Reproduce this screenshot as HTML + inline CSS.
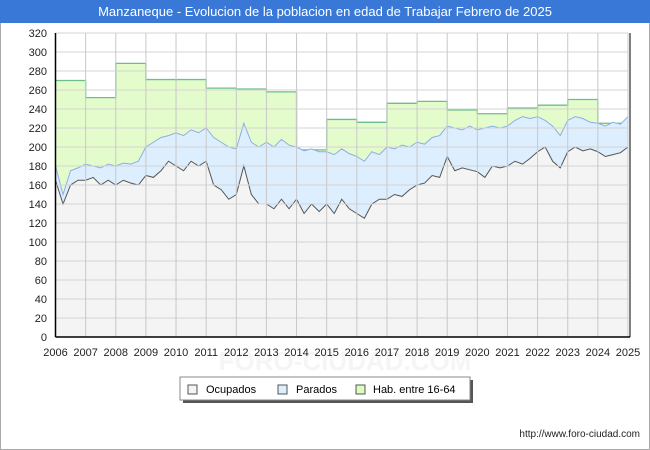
<!DOCTYPE html>
<html><head><meta charset="utf-8"><style>
body{margin:0;background:#fff;font-family:"Liberation Sans",sans-serif}
#wrap{position:relative;width:650px;height:450px;overflow:hidden}
</style></head><body>
<div id="wrap">
<svg id="chart" width="650" height="450" xmlns="http://www.w3.org/2000/svg">
<rect x="0.5" y="0.5" width="649" height="449" fill="#fff" stroke="#aaa"/>
<rect x="0" y="0" width="650" height="23" fill="#3a78d8"/>
<text x="325" y="16" text-anchor="middle" fill="#fff" font-size="13">Manzaneque - Evolucion de la poblacion en edad de Trabajar Febrero de 2025</text>
<text x="345" y="370" text-anchor="middle" fill="#f5f5f5" font-size="26" font-weight="bold">FORO-CIUDAD.COM</text>
<g id="grid"></g>
<g id="series"></g>
<g id="axes"></g>
<g>
<rect x="183" y="380" width="290" height="23" fill="#555"/>
<rect x="180" y="377" width="290" height="23" fill="#fff" stroke="#888"/>
<g><rect x="188" y="385" width="9" height="9" fill="#f4f4f4" stroke="#555"/><text x="206" y="393" font-size="11">Ocupados</text></g>
<g><rect x="278" y="385" width="9" height="9" fill="#ddeeff" stroke="#555"/><text x="296" y="393" font-size="11">Parados</text></g>
<g><rect x="356" y="385" width="9" height="9" fill="#ddfcc0" stroke="#555"/><text x="373" y="393" font-size="11">Hab. entre 16-64</text></g>
</g>
<text x="640" y="437" text-anchor="end" font-size="10" fill="#222">http://www.foro-ciudad.com</text>
</svg>
</div>
<script>
const years=[2006,2007,2008,2009,2010,2011,2012,2013,2014,2015,2016,2017,2018,2019,2020,2021,2022,2023,2024];
const hab=[270,252,288,271,271,262,261,258,197,229,226,246,248,239,235,241,244,250,225];
const ocupados=[165,140,160,165,165,168,160,165,160,165,162,160,170,168,175,185,180,175,185,180,185,160,155,145,150,180,150,140,140,135,145,135,145,130,140,132,140,130,145,135,130,125,140,145,145,150,148,155,160,162,170,168,190,175,178,176,174,168,180,178,180,185,182,188,195,200,185,178,195,200,196,198,195,190,192,194,200];
const parados=[15,10,15,13,17,12,18,17,20,18,20,25,30,37,35,27,35,37,33,35,35,50,50,55,48,45,55,60,65,65,63,67,55,66,58,63,55,62,53,58,60,60,55,47,55,48,54,45,45,41,40,44,32,45,40,46,44,52,42,42,42,43,50,42,37,28,37,34,33,32,34,28,30,32,34,30,32];
const yTicks=[0,20,40,60,80,100,120,140,160,180,200,220,240,260,280,300,320];
const xTicks=[2006,2007,2008,2009,2010,2011,2012,2013,2014,2015,2016,2017,2018,2019,2020,2021,2022,2023,2024,2025];
const X0=55.5,X1=628,Y0=337,Y1=33;
const xs=t=>X0+(t-2006)*(X1-X0)/19;
const ys=v=>Y0-(v/320)*(Y0-Y1);
const NS="http://www.w3.org/2000/svg";
function mk(tag,attrs,parent){const e=document.createElementNS(NS,tag);for(const k in attrs)e.setAttribute(k,attrs[k]);parent.appendChild(e);return e;}
const grid=document.getElementById('grid'),ser=document.getElementById('series'),ax=document.getElementById('axes');
mk('rect',{x:X0,y:Y1,width:X1-X0,height:Y0-Y1,fill:'#fff'},grid);
let hp=`M${xs(2006)},${ys(0)}`;
hab.forEach((v,i)=>{hp+=` L${xs(years[i])},${ys(v)} L${xs(years[i]+1)},${ys(v)}`;});
let hl=hp.replace(/^M[^L]*L/,'M');
hp+=` L${xs(2025)},${ys(0)} Z`;
const habFill=mk('path',{d:hp,fill:'#e4fccc'},ser);


const habLine=mk('path',{d:hl,fill:'none',stroke:'#6cbf8c','stroke-width':1.3},ser);


const tt=i=>2006+i/4;
let tp='',op='';
ocupados.forEach((v,i)=>{const top=v+parados[i];tp+=(i?' L':'M')+xs(tt(i))+','+ys(top);op+=(i?' L':'M')+xs(tt(i))+','+ys(v);});
const last=ocupados.length-1;
const parFill=mk('path',{d:tp+` L${xs(tt(last))},${ys(0)} L${xs(2006)},${ys(0)} Z`,fill:'#ddeeff'},ser);


const parLine=mk('path',{d:tp,fill:'none',stroke:'#8aaee8','stroke-width':1},ser);


const ocFill=mk('path',{d:op+` L${xs(tt(last))},${ys(0)} L${xs(2006)},${ys(0)} Z`,fill:'#f4f4f4'},ser);


const ocLine=mk('path',{d:op,fill:'none',stroke:'#555','stroke-width':1},ser);


yTicks.forEach(v=>{
 const l=mk('line',{x1:X0,x2:X1,y1:ys(v),y2:ys(v),stroke:'#d4d4d4','stroke-width':1},ax);
 
 
 const t=mk('text',{x:47,y:ys(v)+4,'text-anchor':'end','font-size':11,fill:'#222'},ax);
 t.textContent=v;
 
 
});
xTicks.forEach(v=>{
 const l=mk('line',{x1:xs(v),x2:xs(v),y1:Y1,y2:Y0,stroke:'#c8c8c8','stroke-width':1},ax);
 
 
 const t=mk('text',{x:xs(v),y:356,'text-anchor':'middle','font-size':11,fill:'#222'},ax);
 t.textContent=v;
 
 
});
const yax=mk('line',{x1:X0,x2:X0,y1:Y1,y2:Y0,stroke:'#000','stroke-width':1.5},ax);


const xax=mk('line',{x1:X0,x2:X1+2,y1:Y0,y2:Y0,stroke:'#000','stroke-width':1.5},ax);


const rb=mk('line',{x1:X1+2,x2:X1+2,y1:Y1,y2:Y0,stroke:'#000','stroke-width':1},ax);


</script>
</body></html>
